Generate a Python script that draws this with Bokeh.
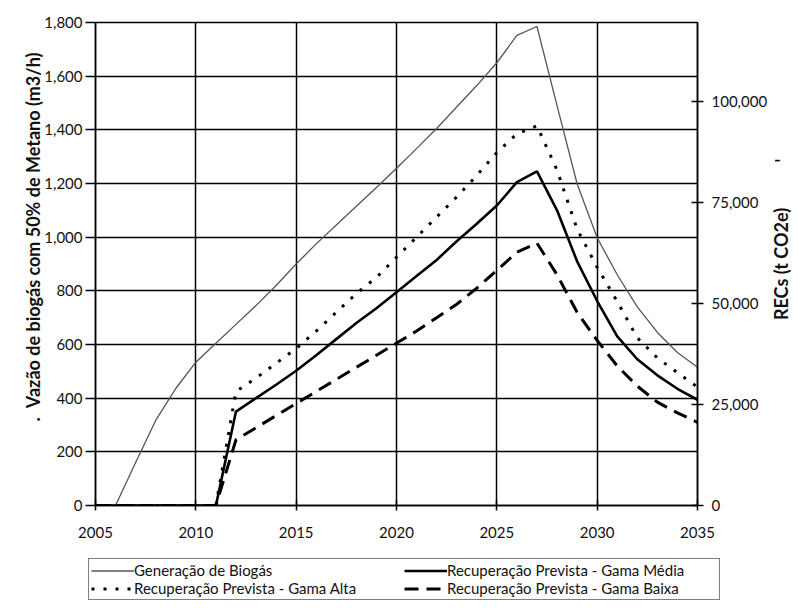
import math
from bokeh.plotting import figure
from bokeh.layouts import column, row
from bokeh.models import (Range1d, LinearAxis, FixedTicker, NumeralTickFormatter,
                          Legend, LegendItem)
from bokeh.core.properties import value
from bokeh.embed import file_html
from bokeh.resources import INLINE

# ---- data ----
gen_years = list(range(2006, 2036))
generation = [0, 160, 317, 436, 534, 605, 675, 745, 820, 900, 975, 1045, 1115, 1185,
              1257, 1330, 1405, 1485, 1565, 1650, 1752, 1785, 1490, 1199, 998, 860,
              740, 645, 570, 515]

rec_years = list(range(2005, 2036))
gama_media = [0, 0, 0, 0, 0, 0, 0,
              350, 400, 450, 502, 560, 620, 680, 735, 795, 855, 915, 985, 1050, 1118,
              1205, 1245, 1100, 910, 762, 630, 545, 485, 435, 394]
gama_alta = [0, 0, 0, 0, 0, 0, 0,
             425, 475, 530, 585, 650, 720, 790, 850, 925, 1000, 1075, 1150, 1230, 1315,
             1385, 1415, 1250, 1030, 888, 760, 625, 550, 495, 441]
gama_baixa = [0, 0, 0, 0, 0, 0, 0,
              245, 290, 335, 380, 425, 470, 515, 560, 605, 650, 700, 750, 810, 876,
              944, 978, 860, 720, 615, 520, 445, 385, 345, 310]

x_ticks = [2005, 2010, 2015, 2020, 2025, 2030, 2035]
y_ticks = [0, 200, 400, 600, 800, 1000, 1200, 1400, 1600, 1800]
rec_ticks = [0, 25000, 50000, 75000, 100000]

labels = ["Generação de Biogás",
          "Recuperação Prevista - Gama Média",
          "Recuperação Prevista - Gama Alta",
          "Recuperação Prevista - Gama Baixa"]
left_title = "Vazão de biogás com 50% de Metano (m3/h)"
right_title = "RECs (t CO2e)"

FONT = "Lato"
TOP, BOTTOM, LEFT, RIGHT = 22, 46, 95, 64

p = figure(frame_width=602, frame_height=483,
           x_range=Range1d(2005, 2035), y_range=Range1d(0, 1800),
           output_backend="svg", toolbar_location=None,
           min_border_left=LEFT, min_border_right=RIGHT,
           min_border_top=TOP, min_border_bottom=BOTTOM)
p.frame_align = False
p.background_fill_color = "white"
p.border_fill_color = "white"
p.outline_line_color = "black"
p.outline_line_width = 1.5

p.extra_y_ranges = {"recs": Range1d(0, 119550)}

# grids
p.xgrid.ticker = FixedTicker(ticks=x_ticks)
p.ygrid.ticker = FixedTicker(ticks=y_ticks)
for g in (p.xgrid, p.ygrid):
    g.grid_line_color = "black"
    g.grid_line_width = 1.5
    g.grid_line_alpha = 1.0

# axes
xa = p.xaxis[0]
xa.ticker = FixedTicker(ticks=x_ticks)
xa.major_tick_in = 5
xa.major_tick_out = 5
xa.major_label_standoff = 16
ya = p.yaxis[0]
ya.ticker = FixedTicker(ticks=y_ticks)
ya.formatter = NumeralTickFormatter(format="0,0")
ya.major_tick_in = 0
ya.major_tick_out = 10
ya.major_label_standoff = 3
# the original title sits above the axis centre, with a small mark below it
ya.axis_label = "\u2003\u2003\u2003\u2003.\u2002" + left_title
ya.axis_label_standoff = -3

ra = LinearAxis(y_range_name="recs", ticker=FixedTicker(ticks=rec_ticks),
                formatter=NumeralTickFormatter(format="0,0"))
ra.major_tick_in = 6
ra.major_tick_out = 6
ra.major_label_standoff = 8
ra.axis_label = None
ra.axis_label_standoff = 0
p.add_layout(ra, "right")

for ax in (xa, ya, ra):
    ax.axis_line_color = "black"
    ax.axis_line_width = 1.5
    ax.major_tick_line_color = "black"
    ax.major_tick_line_width = 1.5
    ax.minor_tick_line_color = None
    ax.major_label_text_font = FONT
    ax.major_label_text_font_size = "15px"
    ax.major_label_text_color = "#111111"
    ax.axis_label_text_font = FONT
    ax.axis_label_text_font_style = "bold"
    ax.axis_label_text_color = "#111111"
ya.axis_label_text_font_size = "18px"

# lines
line_styles = [dict(line_color="#555555", line_width=1.3),
               dict(line_color="black", line_width=2.6),
               dict(line_color="black", line_width=3, line_dash="3 9"),
               dict(line_color="black", line_width=3, line_dash="14 8")]
p.line(gen_years, generation, **line_styles[0])
p.line(rec_years, gama_media, **line_styles[1])
p.line(rec_years, gama_alta, **line_styles[2])
p.line(rec_years, gama_baixa, **line_styles[3])

# right-hand title strip (reads bottom-to-top, like the original)
r = figure(width=26, height=TOP + 483 + BOTTOM,
           x_range=Range1d(0, 1), y_range=Range1d(0, 1),
           output_backend="svg", toolbar_location=None,
           min_border_left=0, min_border_right=0,
           min_border_top=TOP, min_border_bottom=BOTTOM)
r.frame_align = False
r.axis.visible = False
r.grid.visible = False
r.outline_line_color = None
r.border_fill_color = "white"
r.text(x=[0.4], y=[0.5], text=[right_title], angle=math.pi / 2,
       text_align="center", text_baseline="middle",
       text_font=value(FONT), text_font_style="bold", text_font_size="18px",
       text_color="#111111")
r.text(x=[0.45], y=[0.714], text=["'"], angle=math.pi / 2,
       text_align="center", text_baseline="middle",
       text_font=value(FONT), text_font_style="bold", text_font_size="18px",
       text_color="#111111")

# legend strip below the chart
q = figure(width=790, height=57,
           x_range=Range1d(0, 1), y_range=Range1d(0, 1),
           output_backend="svg", toolbar_location=None,
           min_border_left=0, min_border_right=0, min_border_top=0, min_border_bottom=0)
q.frame_align = False
q.axis.visible = False
q.grid.visible = False
q.outline_line_color = None
q.border_fill_color = "white"
# off-range copies of the line styles, used only for the legend swatches
leg_renderers = [q.line([2, 3], [2, 3], **st) for st in line_styles]

legend = Legend(items=[LegendItem(label=labels[0], renderers=[leg_renderers[0]]),
                       LegendItem(label=labels[1], renderers=[leg_renderers[1]]),
                       LegendItem(label=labels[2], renderers=[leg_renderers[2]]),
                       LegendItem(label=labels[3], renderers=[leg_renderers[3]])],
                orientation="horizontal", ncols=2, location=(88, 8))
legend.border_line_color = "black"
legend.border_line_width = 1.5
legend.background_fill_alpha = 1.0
legend.label_text_font = FONT
legend.label_text_font_size = "15px"
legend.label_text_color = "#111111"
legend.glyph_width = 43
legend.glyph_height = 17
legend.label_height = 17
legend.label_width = 270
legend.label_standoff = 0
legend.padding = 2
legend.spacing = 0
legend.margin = 0
q.add_layout(legend)

layout = column(row(p, r, spacing=0), q, spacing=0)
open("out.html", "w").write(file_html(layout, INLINE))
